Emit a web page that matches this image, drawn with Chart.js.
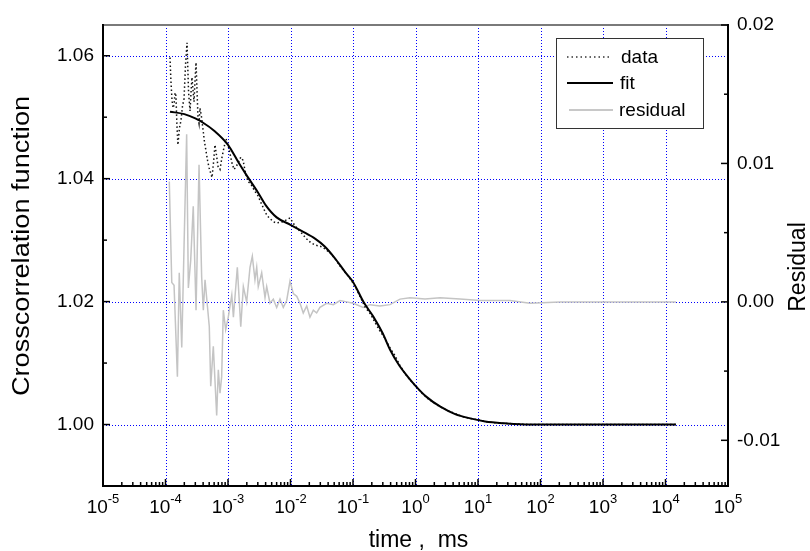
<!DOCTYPE html>
<html>
<head>
<meta charset="utf-8">
<title>Crosscorrelation fit</title>
<script src="https://cdn.jsdelivr.net/npm/chart.js@4.4.0/dist/chart.umd.min.js"></script>
<style>
  html, body { margin: 0; padding: 0; background: #fff; }
  #wrap { width: 810px; height: 551px; }
</style>
</head>
<body>
<div id="wrap"><canvas id="fcs-chart" width="810" height="551"></canvas></div>
<script>
  'use strict';

  // Measured crosscorrelation (time in ms)
  const dataTime = [
    1.18e-4, 1.22e-4, 1.27e-4, 1.32e-4, 1.37e-4, 1.42e-4, 1.47e-4, 1.52e-4, 1.58e-4, 1.67e-4,
    1.77e-4, 1.87e-4, 1.98e-4, 2.09e-4, 2.21e-4, 2.34e-4, 2.47e-4, 2.56e-4, 2.65e-4, 2.75e-4,
    2.86e-4, 2.97e-4, 3.08e-4, 3.2e-4, 3.31e-4, 3.44e-4, 3.56e-4, 3.77e-4, 3.98e-4, 4.2e-4,
    4.45e-4, 4.7e-4, 4.97e-4, 5.25e-4, 5.55e-4, 5.85e-4, 6.19e-4, 6.55e-4, 6.92e-4, 7.45e-4,
    8.02e-4, 8.6e-4, 9.29e-4, 1.0e-3, 1.08e-3, 1.16e-3, 1.25e-3, 1.35e-3, 1.45e-3, 1.6e-3,
    1.74e-3, 1.9e-3, 2.09e-3, 2.3e-3, 2.51e-3, 2.75e-3, 3.02e-3, 3.4e-3, 3.77e-3, 4.2e-3,
    4.7e-3, 5.3e-3, 5.86e-3, 6.7e-3, 7.59e-3, 8.6e-3, 9.82e-3, 1.15e-2, 1.32e-2, 1.55e-2,
    1.77e-2, 2.1e-2, 2.47e-2, 3.0e-2, 3.56e-2, 4.3e-2, 5.15e-2, 6.2e-2, 7.45e-2, 9.0e-2,
    0.108, 0.13, 0.156, 0.19, 0.225, 0.27, 0.325, 0.39, 0.47, 0.565,
    0.679, 0.82, 1.02, 1.27, 1.58, 1.98, 2.47, 3.2, 4.29, 5.6,
    7.45, 9.8, 12.9, 18, 27, 42, 67.9, 120, 205, 420,
    896, 1900, 3909, 8000, 14700
  ];
  const dataValue = [
    1.0597, 1.0560, 1.0528, 1.0515, 1.0520, 1.0540, 1.0535, 1.0490, 1.0455, 1.0482,
    1.0495, 1.0518, 1.0530, 1.0585, 1.0621, 1.0540, 1.0510, 1.0540, 1.0565, 1.0545,
    1.0525, 1.0560, 1.0589, 1.0540, 1.0500, 1.0490, 1.0515, 1.0500, 1.0480, 1.0460,
    1.0445, 1.0430, 1.0418, 1.0410, 1.0402, 1.0425, 1.0455, 1.0438, 1.0420, 1.0415,
    1.0435, 1.0450, 1.0465, 1.0455, 1.0440, 1.0425, 1.0415, 1.0420, 1.0425, 1.0435,
    1.0430, 1.0410, 1.0395, 1.0392, 1.0385, 1.0378, 1.0372, 1.0360, 1.0350, 1.0340,
    1.0335, 1.0330, 1.0328, 1.0329, 1.0330, 1.0333, 1.0336, 1.0325, 1.0318, 1.0310,
    1.0303, 1.0296, 1.0292, 1.0290, 1.0286, 1.0279, 1.0270, 1.0258, 1.0248, 1.0237,
    1.0225, 1.0208, 1.0191, 1.0180, 1.0166, 1.0152, 1.0140, 1.0125, 1.0112, 1.0096,
    1.0083, 1.0072, 1.0062, 1.0051, 1.0042, 1.0035, 1.0029, 1.0023, 1.0018, 1.0013,
    1.0010, 1.0008, 1.0005, 1.0003, 1.0002, 1.0001, 1.0000, 1.0000, 1.0000, 1.0000,
    1.0000, 1.0000, 1.0000, 1.0000, 1.0000
  ];

  // Model fit
  const fitTime = [
    1.18e-4, 2e-4, 3e-4, 4e-4, 6e-4, 1e-3, 1.5e-3, 2e-3, 3e-3, 4e-3,
    6e-3, 1e-2, 1.5e-2, 2.5e-2, 3.5e-2, 5e-2, 7.5e-2, 0.1, 0.15, 0.21,
    0.3, 0.39, 0.55, 0.75, 1.0, 1.5, 2.5, 4.3, 7.5, 13,
    27, 68, 200, 1000, 14700
  ];
  const fitValue = [
    1.0509, 1.0505, 1.0498, 1.0491, 1.0478, 1.0455, 1.0425, 1.0405, 1.0378, 1.0357,
    1.0337, 1.0325, 1.0315, 1.0302, 1.0290, 1.0272, 1.0248, 1.0232, 1.0198, 1.0176,
    1.0148, 1.0122, 1.0096, 1.0078, 1.0063, 1.0045, 1.0029, 1.0017, 1.0010, 1.0005,
    1.0002, 1.0000, 1.0000, 1.0000, 1.0000
  ];

  // Residual (right axis)
  const residTime = [
    1.15e-4, 1.26e-4, 1.37e-4, 1.55e-4, 1.66e-4, 1.82e-4, 1.98e-4, 2.18e-4, 2.32e-4, 2.53e-4,
    2.78e-4, 3.08e-4, 3.44e-4, 3.79e-4, 4.03e-4, 4.29e-4, 5.02e-4, 5.29e-4, 5.82e-4, 6.59e-4,
    7.0e-4, 7.45e-4, 7.92e-4, 8.41e-4, 9.18e-4, 1.01e-3, 1.15e-3, 1.22e-3, 1.41e-3, 1.6e-3,
    1.76e-3, 1.99e-3, 2.25e-3, 2.45e-3, 2.7e-3, 2.88e-3, 3.05e-3, 3.46e-3, 3.91e-3, 4.16e-3,
    4.7e-3, 5.31e-3, 6.01e-3, 6.79e-3, 7.67e-3, 8.69e-3, 9.82e-3, 1.11e-2, 1.26e-2, 1.42e-2,
    1.6e-2, 1.82e-2, 2.05e-2, 2.32e-2, 2.62e-2, 2.96e-2, 3.79e-2, 4.84e-2, 6.19e-2, 7.92e-2,
    0.101, 0.145, 0.187, 0.27, 0.391, 0.565, 0.817, 1.42, 2.47, 5.15,
    10.8, 32.5, 67.9, 205, 1870, 14700
  ];
  const residValue = [
    0.0087, 0.0014, 0.0012, -0.0054, 0.0021, -0.0033, 0.0040, 0.0121, 0.0010, 0.0030,
    0.0069, -0.0006, 0.0099, 0.0018, -0.0006, 0.0016, -0.0018, -0.0061, -0.0032, -0.0082,
    -0.0049, -0.0066, -0.0054, -0.0006, -0.0020, -0.0011, 0.0005, -0.0011, 0.0025, -0.0018,
    0.0011, 0.0000, 0.0025, 0.0033, 0.0016, 0.0025, 0.0011, 0.0021, 0.0003, 0.0011,
    -0.0001, 0.0002, -0.0004, 0.0002, -0.0004, 0.0001, 0.0015, 0.0006, 0.0004, -0.0001,
    -0.0008, -0.0003, -0.0011, -0.0006, -0.0008, -0.0004, -0.0001, -0.0002, 0.0001, 0.0000,
    -0.0001, -0.0004, -0.0002, -0.0003, -0.0002, 0.0002, 0.0003, 0.0002, 0.0003, 0.0002,
    0.0001, 0.0001, -0.0001, 0.0000, 0.0000, 0.0000
  ];

  // Axis ticks
  const xDecades = [1e-5, 1e-4, 1e-3, 1e-2, 1e-1, 1, 1e1, 1e2, 1e3, 1e4, 1e5];
  const xExponents = ['-5', '-4', '-3', '-2', '-1', '0', '1', '2', '3', '4', '5'];
  const leftTicks = [1.00, 1.02, 1.04, 1.06];
  const leftMinor = [1.01, 1.03, 1.05];
  const rightTicks = [-0.01, 0.00, 0.01, 0.02];
  const rightMinor = [-0.005, 0.005, 0.015];

  const FONT = '"Liberation Sans", Arial, sans-serif';
  Chart.defaults.font.family = FONT;

  const pts = (xs, ys) => xs.map((x, i) => ({ x: x, y: ys[i] }));

  // Grid, frame, inward ticks, exponent labels, titles and legend box
  const decorations = {
    id: 'decorations',
    beforeDatasetsDraw(chart) {
      const { ctx, chartArea: a, scales } = chart;
      ctx.save();
      ctx.strokeStyle = '#0000ff';
      ctx.lineWidth = 1;
      ctx.setLineDash([1, 2]);
      xDecades.slice(1, -1).forEach((v) => {
        const px = Math.round(scales.x.getPixelForValue(v)) + 0.5;
        ctx.beginPath();
        ctx.moveTo(px, a.top);
        ctx.lineTo(px, a.bottom);
        ctx.stroke();
      });
      leftTicks.forEach((v) => {
        const py = Math.round(scales.y.getPixelForValue(v)) + 0.5;
        ctx.beginPath();
        ctx.moveTo(a.left, py);
        ctx.lineTo(a.right, py);
        ctx.stroke();
      });
      ctx.restore();
    },
    afterDatasetsDraw(chart) {
      const { ctx, chartArea: a, scales } = chart;
      ctx.save();

      // frame
      ctx.lineWidth = 2;
      ctx.strokeStyle = '#7a7a7a';
      ctx.beginPath();
      ctx.moveTo(a.left, a.top);
      ctx.lineTo(a.right, a.top);
      ctx.stroke();
      ctx.strokeStyle = '#000';
      ctx.beginPath();
      ctx.moveTo(a.left, a.top - 1);
      ctx.lineTo(a.left, a.bottom);
      ctx.lineTo(a.right, a.bottom);
      ctx.lineTo(a.right, a.top - 1);
      ctx.stroke();

      // inward ticks
      ctx.lineWidth = 1.5;
      const hTick = (x0, dir, y, len) => {
        ctx.beginPath();
        ctx.moveTo(x0, y);
        ctx.lineTo(x0 + dir * len, y);
        ctx.stroke();
      };
      leftTicks.forEach((v) => hTick(a.left, 1, scales.y.getPixelForValue(v), 7));
      leftMinor.forEach((v) => hTick(a.left, 1, scales.y.getPixelForValue(v), 4));
      rightTicks.forEach((v) => hTick(a.right, -1, scales.y2.getPixelForValue(v), 7));
      rightMinor.forEach((v) => hTick(a.right, -1, scales.y2.getPixelForValue(v), 4));
      xDecades.forEach((v, i) => {
        const px = scales.x.getPixelForValue(v);
        ctx.beginPath();
        ctx.moveTo(px, a.bottom);
        ctx.lineTo(px, a.bottom - 7);
        ctx.stroke();
        if (i === xDecades.length - 1) return;
        for (let m = 2; m <= 9; m++) {
          const mx = scales.x.getPixelForValue(v * m);
          ctx.beginPath();
          ctx.moveTo(mx, a.bottom);
          ctx.lineTo(mx, a.bottom - 4);
          ctx.stroke();
        }
      });

      // x tick labels, 10 with superscript exponent
      ctx.fillStyle = '#000';
      ctx.textBaseline = 'alphabetic';
      ctx.textAlign = 'left';
      xDecades.forEach((v, i) => {
        const px = scales.x.getPixelForValue(v);
        ctx.font = '19px ' + FONT;
        const wBase = ctx.measureText('10').width;
        ctx.font = '13px ' + FONT;
        const wExp = ctx.measureText(xExponents[i]).width;
        const x0 = px - (wBase + wExp) / 2;
        ctx.font = '19px ' + FONT;
        ctx.fillText('10', x0, a.bottom + 27);
        ctx.font = '13px ' + FONT;
        ctx.fillText(xExponents[i], x0 + wBase, a.bottom + 17);
      });

      // axis titles
      ctx.font = '23px ' + FONT;
      ctx.textAlign = 'center';
      ctx.fillText('time ,  ms', (a.left + a.right) / 2 + 3, 547);
      ctx.textBaseline = 'middle';
      ctx.save();
      ctx.translate(23, 246);
      ctx.rotate(-Math.PI / 2);
      ctx.scale(1.18, 1);
      ctx.fillText('Crosscorrelation function', 0, 0);
      ctx.restore();
      ctx.save();
      ctx.translate(799, 267);
      ctx.rotate(-Math.PI / 2);
      ctx.fillText('Residual', 0, 0);
      ctx.restore();

      // legend
      ctx.fillStyle = '#fff';
      ctx.fillRect(557, 38, 147, 90);
      ctx.strokeStyle = '#333';
      ctx.lineWidth = 1;
      ctx.strokeRect(556.5, 38.5, 147, 90);
      ctx.lineWidth = 1.5;
      ctx.setLineDash([1.5, 3]);
      ctx.strokeStyle = '#333';
      ctx.beginPath(); ctx.moveTo(567, 57); ctx.lineTo(612, 57); ctx.stroke();
      ctx.setLineDash([]);
      ctx.lineWidth = 2;
      ctx.strokeStyle = '#000';
      ctx.beginPath(); ctx.moveTo(567, 83); ctx.lineTo(613, 83); ctx.stroke();
      ctx.strokeStyle = '#c8c8c8';
      ctx.beginPath(); ctx.moveTo(569, 110); ctx.lineTo(613, 110); ctx.stroke();
      ctx.fillStyle = '#000';
      ctx.font = '19px ' + FONT;
      ctx.textAlign = 'left';
      ctx.textBaseline = 'middle';
      ctx.fillText('data', 621, 58);
      ctx.fillText('fit', 620, 84);
      ctx.fillText('residual', 619, 111);

      ctx.restore();
    }
  };

  const ctx = document.getElementById('fcs-chart').getContext('2d');
  new Chart(ctx, {
    type: 'line',
    data: {
      datasets: [
        {
          label: 'fit',
          data: pts(fitTime, fitValue),
          yAxisID: 'y',
          borderColor: '#000',
          borderWidth: 2,
          cubicInterpolationMode: 'monotone',
          pointRadius: 0,
          order: 1
        },
        {
          label: 'data',
          data: pts(dataTime, dataValue),
          yAxisID: 'y',
          borderColor: '#111',
          borderWidth: 1.5,
          borderDash: [1.5, 2.5],
          tension: 0,
          pointRadius: 0,
          order: 2
        },
        {
          label: 'residual',
          data: pts(residTime, residValue),
          yAxisID: 'y2',
          borderColor: '#c4c4c4',
          borderWidth: 1.5,
          tension: 0,
          pointRadius: 0,
          order: 3
        }
      ]
    },
    options: {
      responsive: false,
      animation: false,
      layout: { padding: { top: 25, left: 0, right: 0, bottom: 0 } },
      plugins: {
        legend: { display: false },
        tooltip: { enabled: false },
        title: { display: false }
      },
      scales: {
        x: {
          type: 'logarithmic',
          min: 1e-5,
          max: 1e5,
          afterBuildTicks: (s) => { s.ticks = xDecades.map((v) => ({ value: v })); },
          afterFit: (s) => { s.height = 65; },
          ticks: { display: false },
          grid: { display: false, drawTicks: false },
          border: { display: false }
        },
        y: {
          position: 'left',
          min: 0.99,
          max: 1.065,
          afterBuildTicks: (s) => { s.ticks = leftTicks.map((v) => ({ value: v })); },
          afterFit: (s) => { s.width = 103; },
          ticks: {
            padding: 9,
            color: '#000',
            font: { size: 19 },
            callback: (v) => v.toFixed(2)
          },
          grid: { display: false, drawTicks: false },
          border: { display: false }
        },
        y2: {
          position: 'right',
          min: -0.0133,
          max: 0.02,
          afterBuildTicks: (s) => { s.ticks = rightTicks.map((v) => ({ value: v })); },
          afterFit: (s) => { s.width = 82; },
          ticks: {
            padding: 9,
            color: '#000',
            font: { size: 19 },
            callback: (v) => v.toFixed(2)
          },
          grid: { display: false, drawTicks: false },
          border: { display: false }
        }
      }
    },
    plugins: [decorations]
  });
</script>
</body>
</html>
